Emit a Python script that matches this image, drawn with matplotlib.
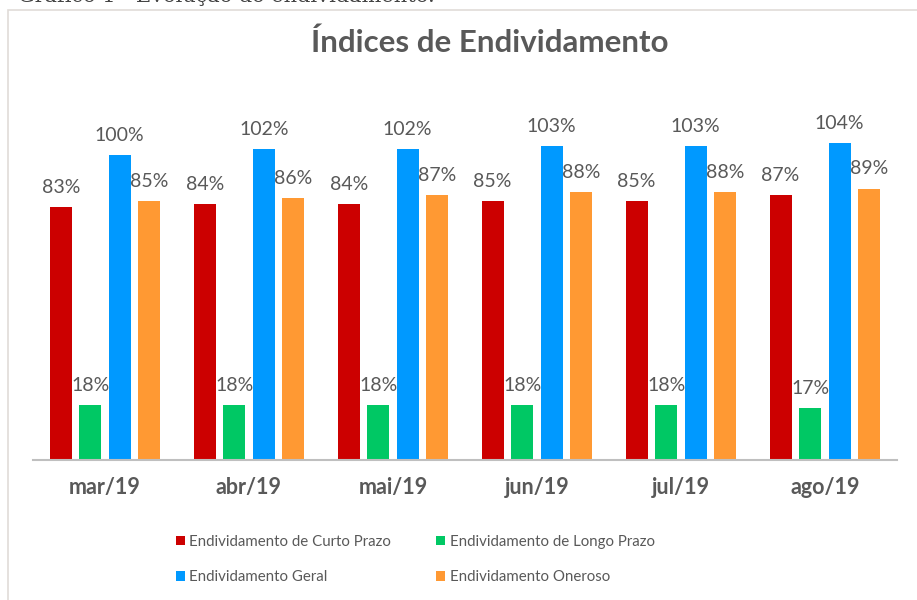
import matplotlib.pyplot as plt
from matplotlib.patches import Rectangle
import numpy as np

# Dados do gráfico
meses = ['mar/19', 'abr/19', 'mai/19', 'jun/19', 'jul/19', 'ago/19']
curto_prazo = [83, 84, 84, 85, 85, 87]
longo_prazo = [18, 18, 18, 18, 18, 17]
geral = [100, 102, 102, 103, 103, 104]
oneroso = [85, 86, 87, 88, 88, 89]

series = [
    ('Endividamento de Curto Prazo', curto_prazo, '#CC0000'),
    ('Endividamento de Longo Prazo', longo_prazo, '#00C864'),
    ('Endividamento Geral', geral, '#0099FF'),
    ('Endividamento Oneroso', oneroso, '#FF9933'),
]

plt.rcParams['font.family'] = ['Lato', 'DejaVu Sans']
cinza = '#595959'

fig = plt.figure(figsize=(9.17, 6.0), dpi=100)
ax = fig.add_axes([0.036, 0.2333, 0.942, 0.61])

x = np.arange(len(meses))
passo = 0.205
largura = 0.153
handles = {}
for i, (nome, valores, cor) in enumerate(series):
    pos = x + (i - 1.5) * passo
    barras = ax.bar(pos, [v / 100 for v in valores], width=largura, color=cor, label=nome)
    handles[nome] = barras
    for p, v in zip(pos, valores):
        ax.annotate(f'{v}%', (p, v / 100), xytext=(0, 8), textcoords='offset points',
                    ha='center', va='bottom', fontsize=14, color=cinza)

ax.set_xlim(-0.5, len(meses) - 0.5)
ax.set_ylim(0, 1.2)
ax.set_yticks([])
for s in ['top', 'right', 'left']:
    ax.spines[s].set_visible(False)
ax.spines['bottom'].set_color('#BFBFBF')
ax.spines['bottom'].set_linewidth(1.5)
ax.set_xticks(x)
ax.set_xticklabels(meses, fontsize=15.5, fontweight='bold', color=cinza)
ax.tick_params(axis='x', length=0, pad=12)

fig.text(0.534, 0.928, 'Índices de Endividamento', ha='center', va='center',
         fontsize=22.5, fontweight='bold', color=cinza)

ordem = ['Endividamento de Curto Prazo', 'Endividamento Geral',
         'Endividamento de Longo Prazo', 'Endividamento Oneroso']
fig.legend([handles[n] for n in ordem], ordem, loc='center left', bbox_to_anchor=(0.177, 0.0675),
           ncol=2, frameon=False, fontsize=10.8, labelcolor=cinza,
           handlelength=0.6, handleheight=0.6, handletextpad=0.3,
           columnspacing=3.0, labelspacing=1.45)

# Moldura do gráfico e legenda cortada do documento
fig.patches.append(Rectangle((0.009, -0.01), 0.995, 0.993, transform=fig.transFigure,
                             fill=False, edgecolor='#E0DCD8', linewidth=1.2))
fig.text(0.02, 1.008, 'Gráfico 1 - Evolução do endividamento.', ha='left', va='center',
         fontsize=15, family='DejaVu Serif', color='#444444')

fig.savefig('out.png', dpi=100)
